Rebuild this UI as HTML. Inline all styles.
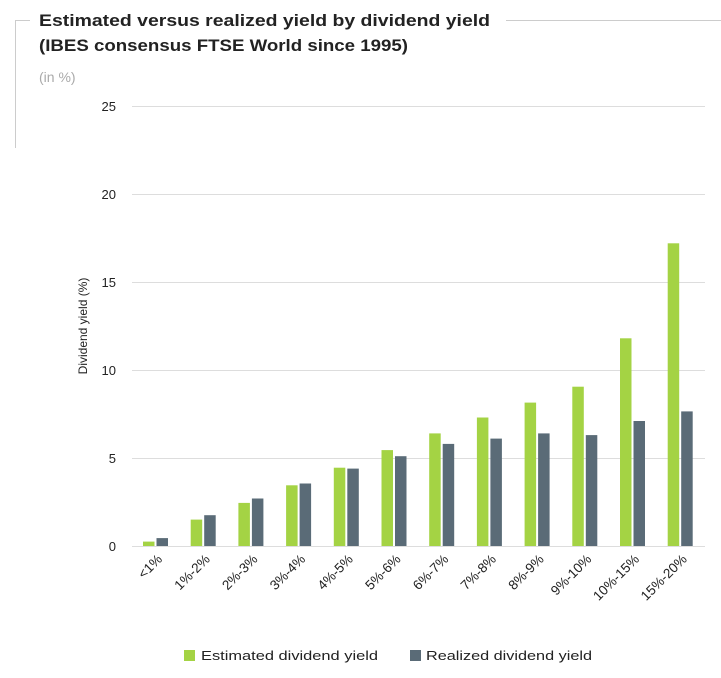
<!DOCTYPE html>
<html><head><meta charset="utf-8"><style>
body{margin:0;background:#fff;width:721px;height:673px;overflow:hidden}
svg{font-family:"Liberation Sans",sans-serif}
</style></head><body>
<svg width="721" height="673" viewBox="0 0 721 673">
<line x1="15.5" y1="20" x2="15.5" y2="148" stroke="#ccc" stroke-width="1"/>
<line x1="15" y1="20.5" x2="30" y2="20.5" stroke="#ccc"/>
<line x1="506" y1="20.5" x2="721" y2="20.5" stroke="#ccc"/>
<text x="39" y="26" font-size="16.5" font-weight="bold" fill="#222" textLength="451" lengthAdjust="spacingAndGlyphs">Estimated versus realized yield by dividend yield</text>
<text x="39" y="51" font-size="16.5" font-weight="bold" fill="#222" textLength="369" lengthAdjust="spacingAndGlyphs">(IBES consensus FTSE World since 1995)</text>
<text x="39" y="82" font-size="14" fill="#aaa">(in %)</text>
<g stroke="#ddd" stroke-width="1">
<line x1="132" x2="705" y1="106.5" y2="106.5"/>
<line x1="132" x2="705" y1="194.5" y2="194.5"/>
<line x1="132" x2="705" y1="282.5" y2="282.5"/>
<line x1="132" x2="705" y1="370.5" y2="370.5"/>
<line x1="132" x2="705" y1="458.5" y2="458.5"/>
<line x1="132" x2="705" y1="546.5" y2="546.5"/>
</g>
<g font-size="13" fill="#222" text-anchor="end">
<text x="116" y="111">25</text><text x="116" y="199">20</text><text x="116" y="287">15</text>
<text x="116" y="375">10</text><text x="116" y="463">5</text><text x="116" y="551">0</text>
</g>
<text transform="translate(87,326) rotate(-90)" font-size="12" fill="#222" text-anchor="middle">Dividend yield (%)</text>
<g fill="#a4d344">
<rect x="143" y="541.6" width="11.5" height="4.4"/>
<rect x="190.7" y="519.6" width="11.5" height="26.4"/>
<rect x="238.4" y="502.9" width="11.5" height="43.1"/>
<rect x="286.1" y="485.3" width="11.5" height="60.7"/>
<rect x="333.8" y="467.7" width="11.5" height="78.3"/>
<rect x="381.5" y="450.1" width="11.5" height="95.9"/>
<rect x="429.2" y="433.4" width="11.5" height="112.6"/>
<rect x="476.9" y="417.5" width="11.5" height="128.5"/>
<rect x="524.6" y="402.6" width="11.5" height="143.4"/>
<rect x="572.3" y="386.7" width="11.5" height="159.3"/>
<rect x="620" y="338.3" width="11.5" height="207.7"/>
<rect x="667.7" y="243.3" width="11.5" height="302.7"/>
</g>
<g fill="#5a6b77">
<rect x="156.5" y="538.1" width="11.5" height="7.9"/>
<rect x="204.2" y="515.2" width="11.5" height="30.8"/>
<rect x="251.9" y="498.5" width="11.5" height="47.5"/>
<rect x="299.6" y="483.5" width="11.5" height="62.5"/>
<rect x="347.3" y="468.6" width="11.5" height="77.4"/>
<rect x="395" y="456.2" width="11.5" height="89.8"/>
<rect x="442.7" y="443.9" width="11.5" height="102.1"/>
<rect x="490.4" y="438.6" width="11.5" height="107.4"/>
<rect x="538.1" y="433.4" width="11.5" height="112.6"/>
<rect x="585.8" y="435.1" width="11.5" height="110.9"/>
<rect x="633.5" y="421" width="11.5" height="125"/>
<rect x="681.2" y="411.4" width="11.5" height="134.6"/>
</g>
<g font-size="13.5" fill="#222" text-anchor="end">
<text transform="translate(163,560) rotate(-45)">&lt;1%</text>
<text transform="translate(210.7,560) rotate(-45)">1%-2%</text>
<text transform="translate(258.4,560) rotate(-45)">2%-3%</text>
<text transform="translate(306.1,560) rotate(-45)">3%-4%</text>
<text transform="translate(353.8,560) rotate(-45)">4%-5%</text>
<text transform="translate(401.5,560) rotate(-45)">5%-6%</text>
<text transform="translate(449.2,560) rotate(-45)">6%-7%</text>
<text transform="translate(496.9,560) rotate(-45)">7%-8%</text>
<text transform="translate(544.6,560) rotate(-45)">8%-9%</text>
<text transform="translate(592.3,560) rotate(-45)">9%-10%</text>
<text transform="translate(640,560) rotate(-45)">10%-15%</text>
<text transform="translate(687.7,560) rotate(-45)">15%-20%</text>
</g>
<rect x="184" y="650" width="11" height="11" fill="#a4d344"/>
<text x="201" y="660" font-size="12.5" fill="#222" textLength="177" lengthAdjust="spacingAndGlyphs">Estimated dividend yield</text>
<rect x="410" y="650" width="11" height="11" fill="#5a6b77"/>
<text x="426" y="660" font-size="12.5" fill="#222" textLength="166" lengthAdjust="spacingAndGlyphs">Realized dividend yield</text>
</svg>
</body></html>
